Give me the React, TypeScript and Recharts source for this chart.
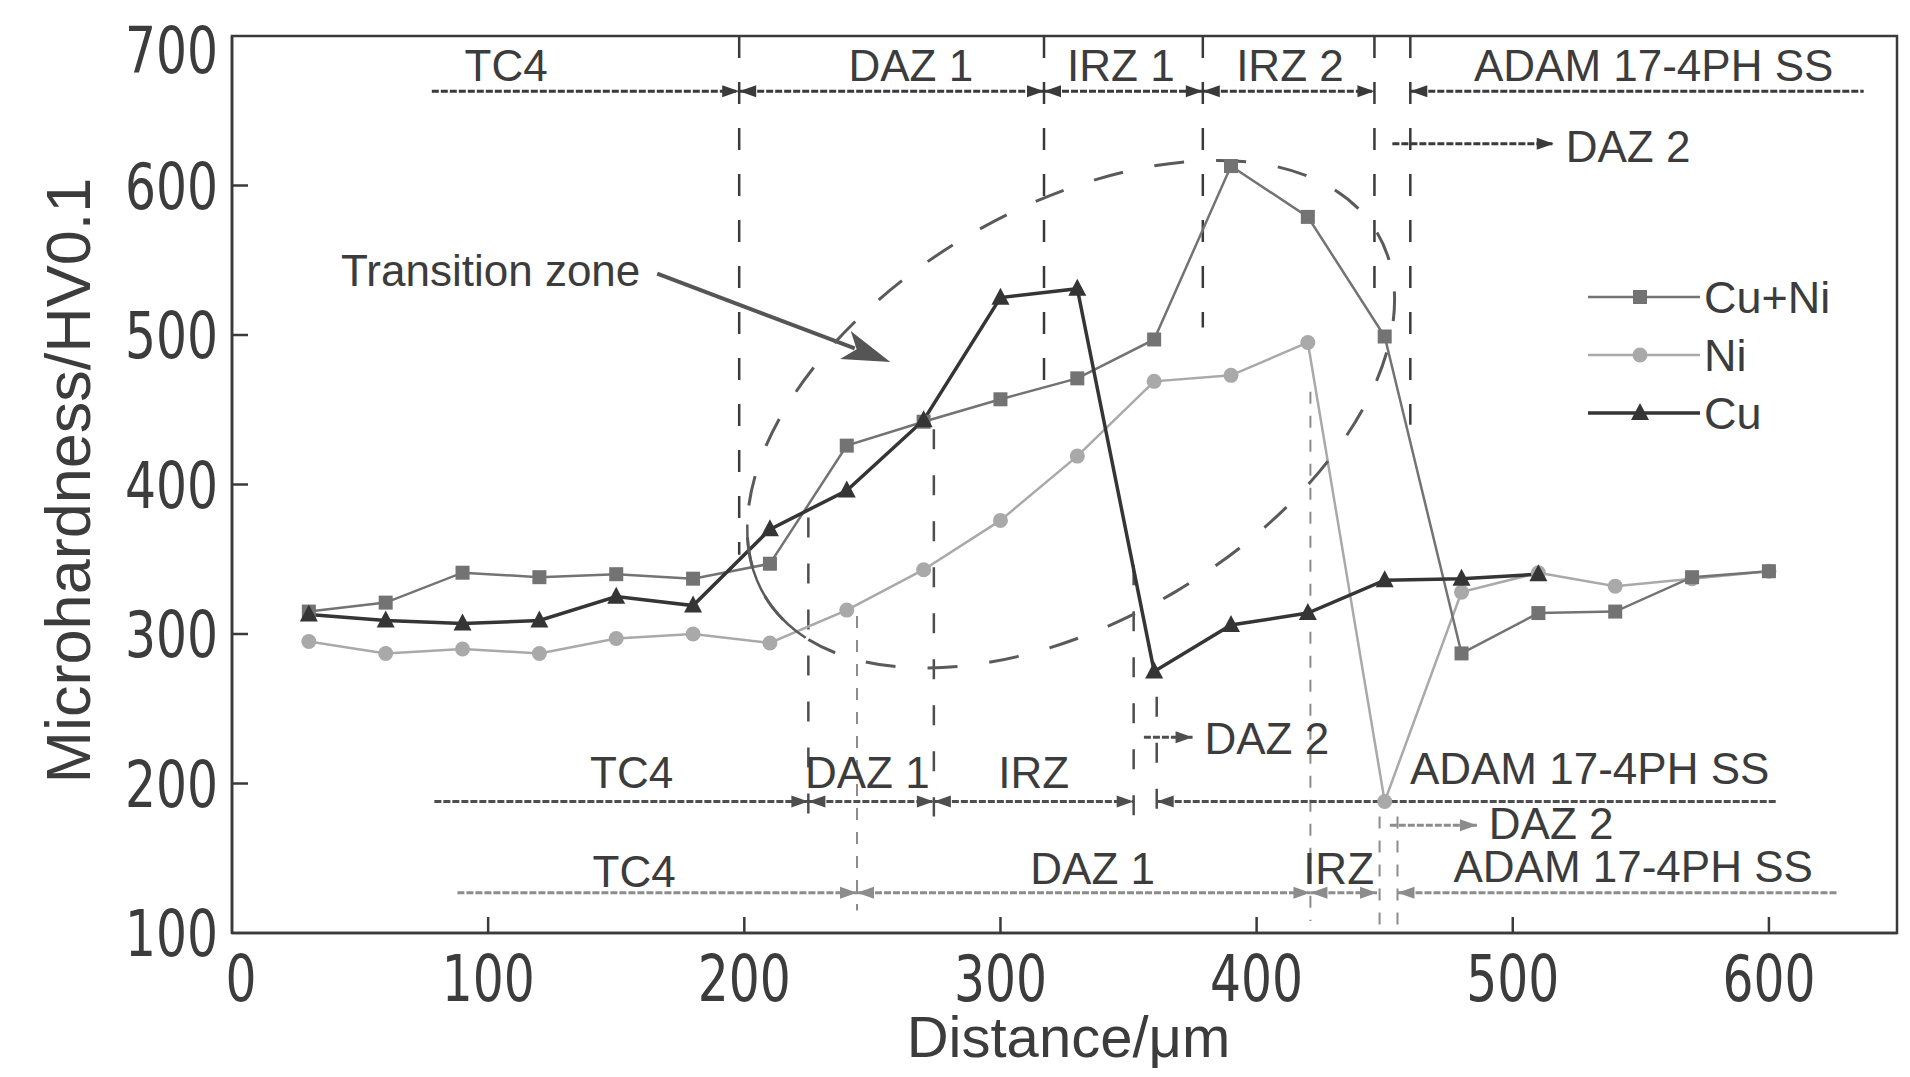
import React from "react";
import {
  Legend,
  Line,
  LineChart,
  ReferenceArea,
  ReferenceDot,
  ReferenceLine,
  XAxis,
  YAxis,
} from "recharts";

// measurement positions, µm
const distance = [30, 60, 90, 120, 150, 180, 210, 240, 270, 300, 330, 360, 390, 420, 450, 480, 510, 540, 570, 600];
// microhardness, HV0.1
const cuNi = [315, 321, 341, 338, 340, 337, 347, 426, 442, 457, 471, 497, 613, 579, 499, 287, 314, 315, 338, 342];
const ni = [295, 287, 290, 287, 297, 300, 294, 316, 343, 376, 419, 469, 473, 495, 188, 328, 341, 332, 337, 342];
const cu = [313, 309, 307, 309, 325, 319, 370, 396, 443, 525, 531, 275, 306, 314, 336, 337, 340, null, null, null];

const xTicks = [0, 100, 200, 300, 400, 500, 600];
const yTicks = [100, 200, 300, 400, 500, 600, 700];

const data = distance.map((x, i) => ({ x, cuNi: cuNi[i], ni: ni[i], cu: cu[i] }));

const NARROW = "'Liberation Sans Narrow', 'DejaVu Sans Condensed', 'Liberation Sans', sans-serif";
const SANS = "'Liberation Sans', Arial, sans-serif";
const INK = "#3c3c3c";

const DARK = "#3a3a3a";
const MID = "#4e4e4e";
const LIGHT = "#8c8c8c";

// zone boundaries (dashed verticals), one group per sample
const boundaries = [
  { x: 198, from: 700, to: 353, color: DARK, dash: "22 24", w: 2.5 },
  { x: 317, from: 700, to: 462, color: DARK, dash: "22 24", w: 2.5 },
  { x: 379, from: 700, to: 505, color: DARK, dash: "22 24", w: 2.5 },
  { x: 446, from: 700, to: 525, color: DARK, dash: "22 24", w: 2.5 },
  { x: 460, from: 700, to: 440, color: DARK, dash: "22 24", w: 2.5 },
  { x: 225, from: 378, to: 178, color: MID, dash: "20 26", w: 2.5 },
  { x: 274, from: 437, to: 178, color: MID, dash: "20 26", w: 2.5 },
  { x: 352, from: 346, to: 178, color: MID, dash: "20 26", w: 2.5 },
  { x: 361, from: 258, to: 178, color: MID, dash: "20 26", w: 2.5 },
  { x: 244, from: 312, to: 115, color: LIGHT, dash: "12 12", w: 2 },
  { x: 421, from: 462, to: 108, color: LIGHT, dash: "12 12", w: 2 },
  { x: 448, from: 178, to: 102, color: LIGHT, dash: "12 12", w: 2 },
  { x: 455, from: 178, to: 102, color: LIGHT, dash: "12 12", w: 2 },
];

// zone arrows
const spans = [
  { x1: 78, x2: 198, y: 663, heads: "end", color: DARK },
  { x1: 198, x2: 317, y: 663, heads: "both", color: DARK },
  { x1: 317, x2: 379, y: 663, heads: "both", color: DARK },
  { x1: 379, x2: 446, y: 663, heads: "both", color: DARK },
  { x1: 460, x2: 637, y: 663, heads: "start", color: DARK },
  { x1: 453, x2: 516, y: 628, heads: "end", color: DARK },
  { x1: 79, x2: 225, y: 188, heads: "end", color: MID },
  { x1: 225, x2: 274, y: 188, heads: "both", color: MID },
  { x1: 274, x2: 352, y: 188, heads: "both", color: MID },
  { x1: 361, x2: 603, y: 188, heads: "start", color: MID },
  { x1: 356, x2: 375, y: 231, heads: "end", color: MID },
  { x1: 88, x2: 244, y: 127, heads: "end", color: LIGHT },
  { x1: 244, x2: 421, y: 127, heads: "both", color: LIGHT },
  { x1: 421, x2: 447, y: 127, heads: "both", color: LIGHT },
  { x1: 455, x2: 627, y: 127, heads: "start", color: LIGHT },
  { x1: 452, x2: 486, y: 172, heads: "end", color: LIGHT },
];

const zoneLabels = [
  { x: 107, y: 670, text: "TC4" },
  { x: 265, y: 670, text: "DAZ 1" },
  { x: 347, y: 670, text: "IRZ 1" },
  { x: 413, y: 670, text: "IRZ 2" },
  { x: 555, y: 670, text: "ADAM 17-4PH SS" },
  { x: 545, y: 616, text: "DAZ 2" },
  { x: 156, y: 197, text: "TC4" },
  { x: 248, y: 197, text: "DAZ 1" },
  { x: 313, y: 197, text: "IRZ" },
  { x: 530, y: 200, text: "ADAM 17-4PH SS" },
  { x: 404, y: 220, text: "DAZ 2" },
  { x: 157, y: 131, text: "TC4" },
  { x: 336, y: 133, text: "DAZ 1" },
  { x: 432, y: 133, text: "IRZ" },
  { x: 547, y: 134, text: "ADAM 17-4PH SS" },
  { x: 515, y: 163, text: "DAZ 2" },
  { x: 101, y: 533, text: "Transition zone" },
];

const series = [
  { key: "ni", name: "Ni", color: "#a9a9a9", width: 2.5, marker: "circle" },
  { key: "cuNi", name: "Cu+Ni", color: "#737373", width: 2.5, marker: "square" },
  { key: "cu", name: "Cu", color: "#353535", width: 3.5, marker: "triangle" },
];
const legendOrder = ["cuNi", "ni", "cu"];

function Marker({ kind, cx, cy, color }: any) {
  if (kind === "square") return <rect x={cx - 7} y={cy - 7} width={14} height={14} fill={color} />;
  if (kind === "circle") return <circle cx={cx} cy={cy} r={7.5} fill={color} />;
  return <polygon points={`${cx},${cy - 10} ${cx - 9},${cy + 7} ${cx + 9},${cy + 7}`} fill={color} />;
}

const dotFor = (kind: string, color: string) => (p: any) => {
  if (p.cy == null || p.value == null) return <g key={p.index} />;
  return (
    <g key={p.index}>
      <Marker kind={kind} cx={p.cx} cy={p.cy} color={color} />
    </g>
  );
};

const arrowShape = (heads: string, color: string, len = 17, half = 6) => (p: any) => {
  const { x1, y1, x2, y2 } = p;
  const dx = x2 - x1;
  const dy = y2 - y1;
  const d = Math.hypot(dx, dy) || 1;
  const ux = dx / d;
  const uy = dy / d;
  const head = (tx: number, ty: number, sx: number, sy: number) => {
    const bx = tx - sx * len;
    const by = ty - sy * len;
    return `${tx},${ty} ${bx - sy * half},${by + sx * half} ${bx + sy * half},${by - sx * half}`;
  };
  return (
    <g>
      <line x1={x1} y1={y1} x2={x2} y2={y2} stroke={color} strokeWidth={3} strokeDasharray="7 2" />
      {(heads === "end" || heads === "both") && <polygon points={head(x2, y2, ux, uy)} fill={color} />}
      {(heads === "start" || heads === "both") && <polygon points={head(x1, y1, -ux, -uy)} fill={color} />}
    </g>
  );
};

// dashed ellipse around the transition zone, with its solid lower-left stroke
function TransitionEllipse({ cx, cy }: any) {
  const rx = 356;
  const ry = 206;
  const rot = (-30.7 * Math.PI) / 180;
  const pt = (deg: number) => {
    const t = (deg * Math.PI) / 180;
    const ex = rx * Math.cos(t);
    const ey = ry * Math.sin(t);
    return [cx + ex * Math.cos(rot) - ey * Math.sin(rot), cy + ex * Math.sin(rot) + ey * Math.cos(rot)];
  };
  const arc: string[] = [];
  for (let d = 200; d >= 163; d -= 3) {
    const [x, y] = pt(d);
    arc.push(`${arc.length ? "L" : "M"}${x.toFixed(1)},${y.toFixed(1)}`);
  }
  return (
    <g>
      <ellipse
        cx={cx}
        cy={cy}
        rx={rx}
        ry={ry}
        transform={`rotate(-30.7 ${cx} ${cy})`}
        fill="none"
        stroke="#5a5a5a"
        strokeWidth={3}
        strokeDasharray="30 32"
      />
      <path d={arc.join(" ")} fill="none" stroke="#5a5a5a" strokeWidth={2.5} />
    </g>
  );
}

function XTick({ x, y, payload }: any) {
  const v = payload.value;
  const s = String(v);
  return (
    <g>
      {v > 0 && <line x1={x} y1={y} x2={x} y2={y - 16} stroke={DARK} strokeWidth={2.5} />}
      <text
        x={v === 0 ? x + 9 : x}
        y={y + 68}
        textAnchor="middle"
        fontFamily={NARROW}
        fontSize={64}
        fill={INK}
        textLength={s.length * 31}
        lengthAdjust="spacingAndGlyphs"
      >
        {s}
      </text>
    </g>
  );
}

function YTick({ x, y, payload }: any) {
  const v = payload.value;
  const s = String(v);
  return (
    <g>
      {v > 100 && v < 700 && <line x1={x} y1={y} x2={x + 16} y2={y} stroke={DARK} strokeWidth={2.5} />}
      <text
        x={x - 14}
        y={v === 700 ? y + 14 : y}
        dy="0.36em"
        textAnchor="end"
        fontFamily={NARROW}
        fontSize={64}
        fill={INK}
        textLength={s.length * 31}
        lengthAdjust="spacingAndGlyphs"
      >
        {s}
      </text>
    </g>
  );
}

function LegendBox() {
  return (
    <svg width={300} height={180}>
      {legendOrder.map((k, i) => {
        const s = series.find((d) => d.key === k)!;
        const y = 31 + i * 58;
        return (
          <g key={k}>
            <line x1={10} y1={y} x2={122} y2={y} stroke={s.color} strokeWidth={s.width} />
            <Marker kind={s.marker} cx={62} cy={y} color={s.color} />
            <text x={126} y={y} dy="0.36em" fontFamily={SANS} fontSize={45} fill={INK}>
              {s.name}
            </text>
          </g>
        );
      })}
    </svg>
  );
}

export default function App() {
  return (
    <LineChart width={1894} height={1061} data={data} margin={{ top: 28, right: 5, left: 0, bottom: 0 }}>
      <XAxis
        type="number"
        dataKey="x"
        domain={[0, 650]}
        ticks={xTicks}
        height={136}
        tickSize={0}
        tickMargin={0}
        tickLine={false}
        axisLine={{ stroke: DARK, strokeWidth: 2.5 }}
        tick={<XTick />}
        label={{
          content: ({ viewBox }: any) => (
            <text
              x={viewBox.x + viewBox.width / 2 + 4}
              y={viewBox.y + 124}
              textAnchor="middle"
              fontFamily={SANS}
              fontSize={58}
              fill={INK}
            >
              Distance/μm
            </text>
          ),
        }}
      />
      <YAxis
        type="number"
        domain={[100, 700]}
        ticks={yTicks}
        width={224}
        tickSize={0}
        tickMargin={0}
        tickLine={false}
        axisLine={{ stroke: DARK, strokeWidth: 2.5 }}
        tick={<YTick />}
        label={{
          content: ({ viewBox }: any) => {
            const cx = viewBox.x + 59;
            const cy = viewBox.y + viewBox.height / 2 - 4;
            return (
              <text
                x={cx}
                y={cy}
                dy="0.36em"
                textAnchor="middle"
                transform={`rotate(-90 ${cx} ${cy})`}
                fontFamily={SANS}
                fontSize={63}
                fill={INK}
              >
                Microhardness/HV0.1
              </text>
            );
          },
        }}
      />
      <ReferenceArea x1={0} x2={650} y1={100} y2={700} fill="none" stroke={DARK} strokeWidth={2.5} />

      {boundaries.map((b, i) => (
        <ReferenceLine
          key={`b${i}`}
          segment={[{ x: b.x, y: b.from }, { x: b.x, y: b.to }]}
          stroke={b.color}
          strokeWidth={b.w}
          strokeDasharray={b.dash}
        />
      ))}
      {spans.map((s, i) => (
        <ReferenceLine
          key={`s${i}`}
          segment={[{ x: s.x1, y: s.y }, { x: s.x2, y: s.y }]}
          shape={arrowShape(s.heads, s.color)}
        />
      ))}
      <ReferenceLine
        segment={[{ x: 166, y: 541 }, { x: 257, y: 482 }]}
        shape={(p: any) => {
          const { x1, y1, x2, y2 } = p;
          const d = Math.hypot(x2 - x1, y2 - y1);
          const ux = (x2 - x1) / d;
          const uy = (y2 - y1) / d;
          const bx = x2 - ux * 48;
          const by = y2 - uy * 48;
          return (
            <g>
              <line x1={x1} y1={y1} x2={bx + ux * 10} y2={by + uy * 10} stroke="#555" strokeWidth={4} />
              <polygon
                points={`${x2},${y2} ${bx - uy * 15},${by + ux * 15} ${bx + ux * 12},${by + uy * 12} ${bx + uy * 15},${by - ux * 15}`}
                fill="#555"
              />
            </g>
          );
        }}
      />
      <ReferenceDot x={327.5} y={447} r={0} shape={(p: any) => <TransitionEllipse cx={p.cx} cy={p.cy} />} />
      {zoneLabels.map((l, i) => (
        <ReferenceDot
          key={`l${i}`}
          x={l.x}
          y={l.y}
          r={0}
          shape={(p: any) => (
            <text x={p.cx} y={p.cy} textAnchor="middle" fontFamily={SANS} fontSize={44} fill={INK}>
              {l.text}
            </text>
          )}
        />
      ))}

      {series.map((s) => (
        <Line
          key={s.key}
          dataKey={s.key}
          name={s.name}
          stroke={s.color}
          strokeWidth={s.width}
          dot={dotFor(s.marker, s.color)}
          activeDot={false}
          isAnimationActive={false}
        />
      ))}
      <Legend
        layout="vertical"
        align="center"
        verticalAlign="middle"
        wrapperStyle={{ position: "absolute", left: 1570, top: 258, width: 300, height: 180 }}
        content={() => <LegendBox />}
      />
    </LineChart>
  );
}
